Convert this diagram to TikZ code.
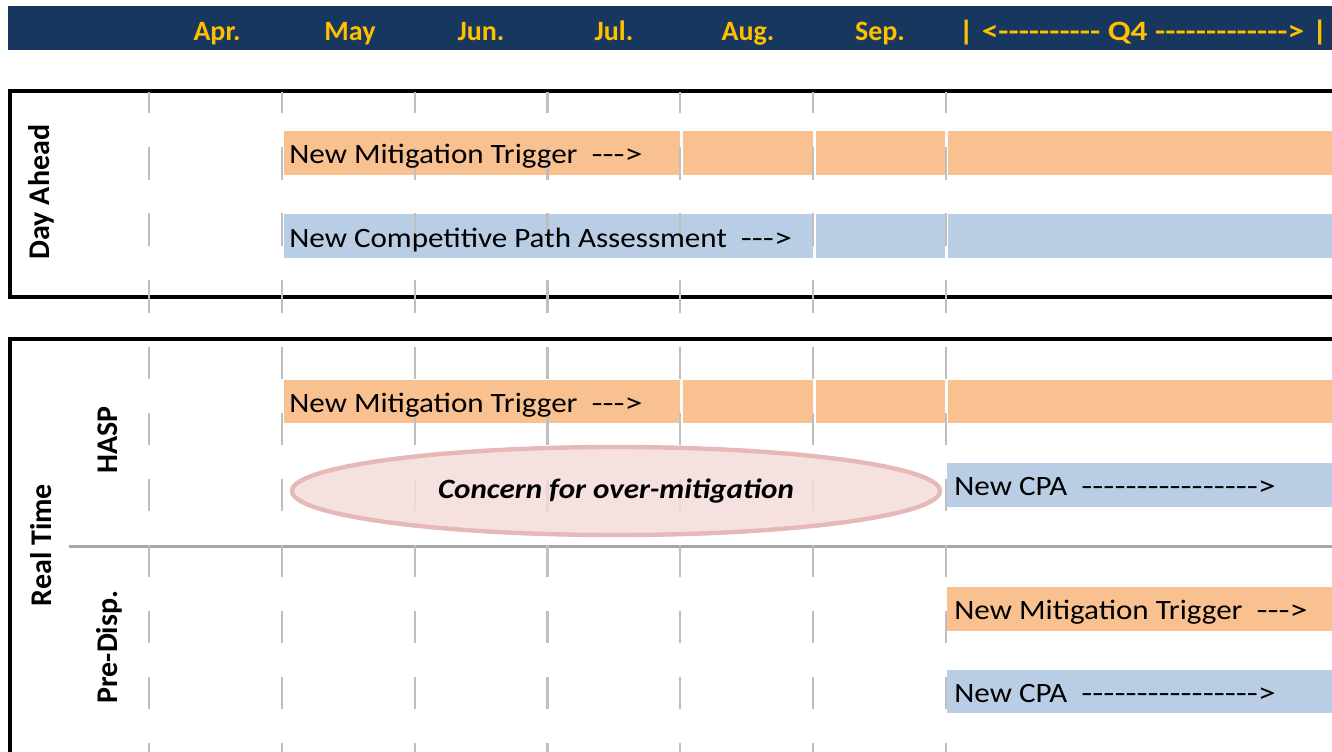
\documentclass[tikz,border=0pt]{standalone}
\usepackage{fontspec}
\usepackage{graphicx}
\newfontfamily\carlito{Carlito}
\usetikzlibrary{shapes.geometric}

\definecolor{headnavy}{HTML}{17375E}
\definecolor{headgold}{HTML}{FFC000}
\definecolor{mitorange}{HTML}{F9C18F}
\definecolor{cpablue}{HTML}{B9CDE5}
\definecolor{gridgray}{HTML}{BFBFBF}
\definecolor{sepgray}{HTML}{A6A6A6}
\definecolor{concernfill}{HTML}{F2DCDB}
\definecolor{concernline}{HTML}{E6B9B8}

\newcommand{\wide}[1]{\scalebox{1.11}[1]{#1}}
\newcommand{\dashrun}[1]{\scalebox{1.16}[1]{#1}}

\begin{document}
\begin{tikzpicture}[x=0.5pt, y=-0.5pt,
    month/.style={text=headgold, anchor=base, inner sep=0pt, font=\carlito\bfseries\fontsize{14}{16}\selectfont},
    bartext/.style={anchor=base west, inner sep=0pt, font=\carlito\fontsize{14}{16}\selectfont},
    rowlabel/.style={rotate=90, inner sep=0pt, font=\carlito\bfseries\fontsize{15}{17}\selectfont},
    gridline/.style={gridgray, line width=1.1pt},
    cellgap/.style={white, line width=1.5pt},
    frame/.style={black, line width=1.6pt}]
    \useasboundingbox (0,0) rectangle (1332,751);
    \clip (0,0) rectangle (1332,751);

    % Header band
    \fill[headnavy] (8,6) rectangle (1340,50);
    \foreach \m/\x [count=\i] in {Apr./217, May/350, Jun./481, Jul./614, Aug./748, Sep./880}
        \node[month] (month\i) at (\x,40) {\m};
    \node[month, anchor=base west] (q4) at (958,40) {\scalebox{1.19}[1]{| <---------- Q4 -------------> |}};

    % Frames
    \draw[frame] (1340,91) -- (10,91) -- (10,297) -- (1340,297);
    \draw[frame] (1340,339) -- (10,339) -- (10,760);
    \draw[sepgray, line width=1.5pt] (69,546.5) -- (1340,546.5);

    % Bars
    \fill[mitorange] (284,131) rectangle (1340,175);
    \fill[cpablue] (284,214) rectangle (1340,258);
    \fill[mitorange] (284,380) rectangle (1340,423);
    \fill[cpablue] (947,463) rectangle (1340,507);
    \fill[mitorange] (947,587) rectangle (1340,631);
    \fill[cpablue] (947,670) rectangle (1340,713);
    \foreach \x in {681,814,946} {
        \draw[cellgap] (\x,131) -- (\x,175);
        \draw[cellgap] (\x,380) -- (\x,423);
    }
    \foreach \x in {814,946}
        \draw[cellgap] (\x,214) -- (\x,258);

    % Month grid
    \foreach \i in {0,...,6} {
        \draw[gridline, dash pattern=on 16.5pt off 16.8pt] ({149+132.83*\i},313) -- ({149+132.83*\i},92);
        \draw[gridline, dash pattern=on 16pt off 17pt] ({149+132.83*\i},347) -- ({149+132.83*\i},760);
    }

    % Concern
    \node[ellipse, draw=concernline, line width=2.2pt, fill=concernfill, fill opacity=0.85, text opacity=1,
        minimum width=324pt, minimum height=44pt, inner sep=0pt,
        font=\carlito\bfseries\itshape\fontsize{14}{16}\selectfont] (concern) at (616,491) {\wide{Concern for over-mitigation}};

    % Row labels
    \node[rowlabel] (dayahead) at (41,192) {Day Ahead};
    \node[rowlabel] (realtime) at (41,545) {Real Time};
    \node[rowlabel] (hasp) at (108,440) {HASP};
    \node[rowlabel] (predisp) at (109,647) {Pre-Disp.};

    % Bar texts
    \node[bartext] (damit) at (289,163) {\wide{New Mitigation Trigger\ \ \dashrun{--->}}};
    \node[bartext] (dacpa) at (289,247) {\wide{New Competitive Path Assessment\ \ \dashrun{--->}}};
    \node[bartext] (haspmit) at (289,412) {\wide{New Mitigation Trigger\ \ \dashrun{--->}}};
    \node[bartext] (haspcpa) at (954,495) {\wide{New CPA\ \ \dashrun{---------------->}}};
    \node[bartext] (predmit) at (954,619) {\wide{New Mitigation Trigger\ \ \dashrun{--->}}};
    \node[bartext] (predcpa) at (954,702) {\wide{New CPA\ \ \dashrun{---------------->}}};
\end{tikzpicture}
\end{document}
